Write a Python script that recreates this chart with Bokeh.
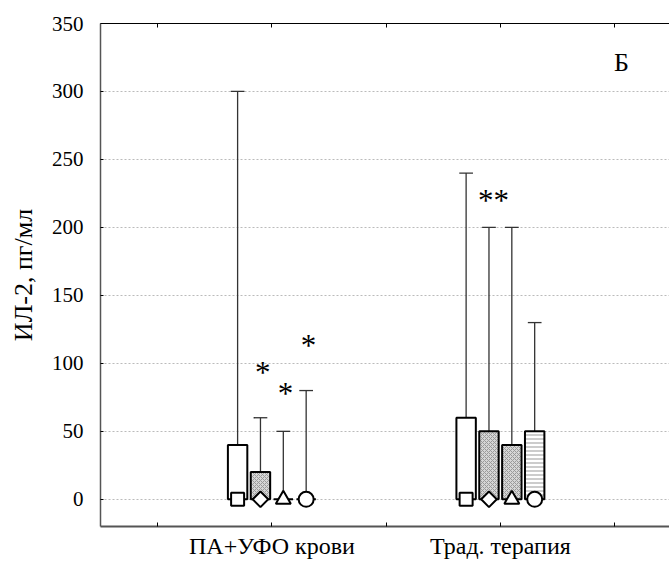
import math
from bokeh.plotting import figure
from bokeh.models import ColumnDataSource, FixedTicker, LinearAxis, Range1d
from bokeh.core.properties import value
from bokeh.embed import file_html
from bokeh.resources import INLINE

# IL-2 levels (pg/ml) in two treatment groups, four time points each
groups = ["ПА+УФО крови", "Трад. терапия"]
markers = ["square", "diamond", "triangle", "circle"]

median_g1 = [0, 0, 0, 0]
q3_g1 = [40, 20, 0, 0]
max_g1 = [300, 60, 50, 80]

median_g2 = [0, 0, 0, 0]
q3_g2 = [60, 50, 40, 50]
max_g2 = [240, 200, 200, 130]

# significance marks
stars_g1 = ["", "*", "*", "*"]
stars_g1_y = [0, 93, 78, 113]
stars_g2 = "**"
stars_g2_y = 220

panel_letter = "Б"

SERIF = "Liberation Serif"
offsets = [-0.15, -0.05, 0.05, 0.15]
box_w = 0.085
cap_w = 0.06

fills = ["white", "#d6d6d6", "#d6d6d6", "white"]
hatches = [" ", "diagonal_cross", "diagonal_cross", "horizontal_line"]
# a diamond is drawn as a square turned by 45 degrees, so it is as wide as it is tall
glyph_shape = {"square": ("square", 0.0, 13), "diamond": ("square", math.pi / 4, 11),
               "triangle": ("triangle", 0.0, 15), "circle": ("circle", 0.0, 15)}

xs, q3s, maxs, meds, fill_c, hatch_p, mk, ang, msz = [], [], [], [], [], [], [], [], []
for gi, (q3, mx, md) in enumerate([(q3_g1, max_g1, median_g1), (q3_g2, max_g2, median_g2)]):
    for k in range(4):
        xs.append(gi + 1 + offsets[k])
        q3s.append(q3[k])
        maxs.append(mx[k])
        meds.append(md[k])
        fill_c.append(fills[k])
        hatch_p.append(hatches[k])
        shape, angle, size = glyph_shape[markers[k]]
        mk.append(shape)
        ang.append(angle)
        msz.append(size)

src = ColumnDataSource(dict(x=xs, q3=q3s, mx=maxs, med=meds, fill=fill_c,
                            hatch=hatch_p, marker=mk, angle=ang, size=msz,
                            cl=[x - cap_w / 2 for x in xs], cr=[x + cap_w / 2 for x in xs]))

p = figure(width=669, height=563, x_range=Range1d(0.25, 2.74), y_range=Range1d(-20, 350),
           output_backend="svg", toolbar_location=None,
           min_border_left=100, min_border_right=0, min_border_top=23, min_border_bottom=37)
p.outline_line_color = None
p.background_fill_color = "white"
p.border_fill_color = "white"

# whiskers and caps
p.segment(x0="x", y0="q3", x1="x", y1="mx", source=src, line_color="#333333", line_width=1.3)
p.segment(x0="cl", y0="mx", x1="cr", y1="mx", source=src, line_color="#333333", line_width=1.3)

# boxes (0 .. upper quartile)
p.vbar(x="x", width=box_w, bottom=0, top="q3", source=src, fill_color="fill",
       hatch_pattern="hatch", hatch_color="#999999", hatch_scale=4, hatch_weight=1,
       line_color="black", line_width=2)

# medians
p.scatter(x="x", y="med", marker="marker", angle="angle", size="size", source=src,
          fill_color="white", line_color="black", line_width=2)

# significance stars
star_x = [1 + offsets[k] + 0.01 for k in range(4) if stars_g1[k]]
star_y = [stars_g1_y[k] for k in range(4) if stars_g1[k]]
star_t = [s for s in stars_g1 if s]
p.text(x=star_x, y=star_y, text=star_t, text_font=value(SERIF), text_font_size="31px",
       text_align="center", text_baseline="middle", text_color="black")
p.text(x=[2 - 0.03], y=[stars_g2_y], text=[stars_g2], text_font=value(SERIF), text_font_size="31px",
       text_align="center", text_baseline="middle", text_color="black")

p.text(x=[2.53], y=[321], text=[panel_letter], text_font=value(SERIF), text_font_size="26px",
       text_align="center", text_baseline="middle", text_color="black")

# axes
p.xaxis.ticker = FixedTicker(ticks=[1, 2], minor_ticks=[0.5, 1.5, 2.5])
p.xaxis.major_label_overrides = {1: groups[0], 2: groups[1]}
p.xaxis.major_label_text_font = SERIF
p.xaxis.major_label_text_font_size = "24px"
p.xaxis.major_label_text_color = "black"
p.xaxis.major_label_standoff = 6
p.xaxis.major_tick_in = 4
p.xaxis.major_tick_out = 0
p.xaxis.minor_tick_in = 4
p.xaxis.minor_tick_out = 0
p.xaxis.axis_line_color = "#555555"
p.xaxis.axis_line_width = 2
p.xaxis.major_tick_line_color = "black"
p.xaxis.minor_tick_line_color = "black"

p.yaxis.ticker = FixedTicker(ticks=[0, 50, 100, 150, 200, 250, 300, 350])
p.yaxis.major_label_text_font = SERIF
p.yaxis.major_label_text_font_size = "21px"
p.yaxis.major_label_text_color = "black"
p.yaxis.major_label_standoff = 17
p.yaxis.major_tick_in = 3
p.yaxis.major_tick_out = 0
p.yaxis.minor_tick_line_color = None
p.yaxis.axis_line_color = "#555555"
p.yaxis.axis_line_width = 1.5
p.yaxis.axis_label = "ИЛ-2, пг/мл"
p.yaxis.axis_label_text_font = SERIF
p.yaxis.axis_label_text_font_size = "26px"
p.yaxis.axis_label_text_font_style = "normal"
p.yaxis.axis_label_text_color = "black"
p.yaxis.axis_label_standoff = 11

# frame top edge with inward ticks
top = LinearAxis(ticker=FixedTicker(ticks=[], minor_ticks=[0.5, 1, 1.5, 2, 2.5]),
                 major_tick_in=4, major_tick_out=0,
                 minor_tick_in=4, minor_tick_out=0, axis_line_color="black",
                 minor_tick_line_color="black", major_label_standoff=0)
p.add_layout(top, "above")

p.xgrid.grid_line_color = None
p.ygrid.grid_line_color = "#bbbbbb"
p.ygrid.grid_line_dash = "2 2"
p.ygrid.grid_line_width = 1

open("out.html", "w").write(file_html(p, INLINE))
